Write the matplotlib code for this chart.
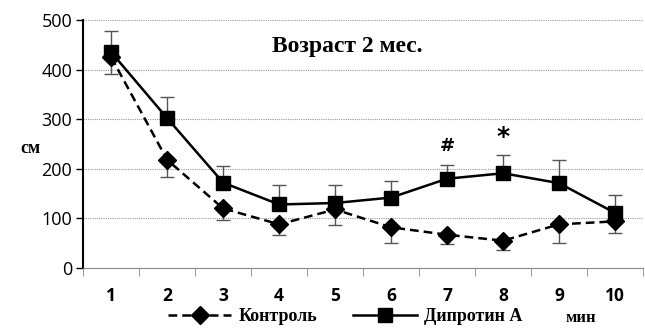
import numpy as np
import matplotlib
matplotlib.use('Agg')
import matplotlib.pyplot as plt

minutes = [1, 2, 3, 4, 5, 6, 7, 8, 9, 10]
control = [425, 218, 120, 88, 118, 82, 67, 55, 88, 94]
control_err = [33, 34, 23, 22, 31, 31, 19, 19, 37, 24]
diprotin = [435, 302, 172, 128, 131, 142, 180, 191, 171, 111]
diprotin_err = [43, 43, 34, 40, 37, 33, 28, 36, 46, 36]

serif = 'Liberation Serif'
sans = 'Open Sans'

fig = plt.figure(figsize=(6.45, 3.28), dpi=100)
ax = fig.add_axes([0.129, 0.183, 0.868, 0.756])

x = np.array(minutes)
lo = np.zeros(len(x))
ax.errorbar(x, control, yerr=[control_err, lo], fmt='none', ecolor='#555555',
            elinewidth=1, capsize=5, capthick=1, zorder=2)
ax.errorbar(x, diprotin, yerr=[lo, diprotin_err], fmt='none', ecolor='#555555',
            elinewidth=1, capsize=5, capthick=1, zorder=2)

l1, = ax.plot(x, control, color='black', lw=1.8, ls=(0, (3.5, 2)), marker='D',
              markersize=9.5, zorder=3, label='Контроль')
l2, = ax.plot(x, diprotin, color='black', lw=1.8, marker='s',
              markersize=9.5, zorder=3, label='Дипротин А')

ax.set_xlim(0.5, 10.5)
ax.set_ylim(0, 500)
ax.set_yticks([0, 100, 200, 300, 400, 500])
ax.yaxis.grid(True, ls=(0, (1, 1)), color='#999999', lw=0.8)
ax.set_axisbelow(True)

ax.set_xticks(x)
ax.set_xticks(np.arange(0.5, 11, 1), minor=True)
ax.tick_params(axis='x', which='major', length=0, pad=14)
ax.tick_params(axis='x', which='minor', length=6, color='#888888', direction='out')
ax.tick_params(axis='y', length=5, width=1, direction='out', pad=3)
for t in ax.get_xticklabels():
    t.set_fontfamily(sans)
    t.set_fontweight('bold')
    t.set_fontsize(12.5)
for t in ax.get_yticklabels():
    t.set_fontfamily(sans)
    t.set_fontsize(13)

for s in ['top', 'right']:
    ax.spines[s].set_visible(False)
ax.spines['left'].set_linewidth(1.5)
ax.spines['bottom'].set_color('#888888')

ax.text(5.22, 447, 'Возраст 2 мес.', fontfamily=serif, fontweight='bold',
        fontsize=17, ha='center', va='center')
ax.text(7, 228, '#', fontfamily='DejaVu Sans', fontweight='bold', fontsize=13,
        ha='center', va='bottom')
ax.text(8, 240, '*', fontfamily='DejaVu Sans', fontweight='bold', fontsize=18,
        ha='center', va='bottom')

fig.text(0.047, 0.548, 'см', fontfamily=serif, fontweight='bold', fontsize=13,
         ha='center', va='center')
fig.text(0.9, 0.032, 'мин', fontfamily=serif, fontweight='bold', fontsize=12,
         ha='center', va='center')

leg = fig.legend(handles=[l1, l2], loc='center', bbox_to_anchor=(0.535, 0.035), ncol=2,
                 frameon=False, handlelength=3.5, columnspacing=2.0, handletextpad=0.4,
                 prop={'family': serif, 'weight': 'bold', 'size': 13})

fig.savefig('out.png', dpi=100)
